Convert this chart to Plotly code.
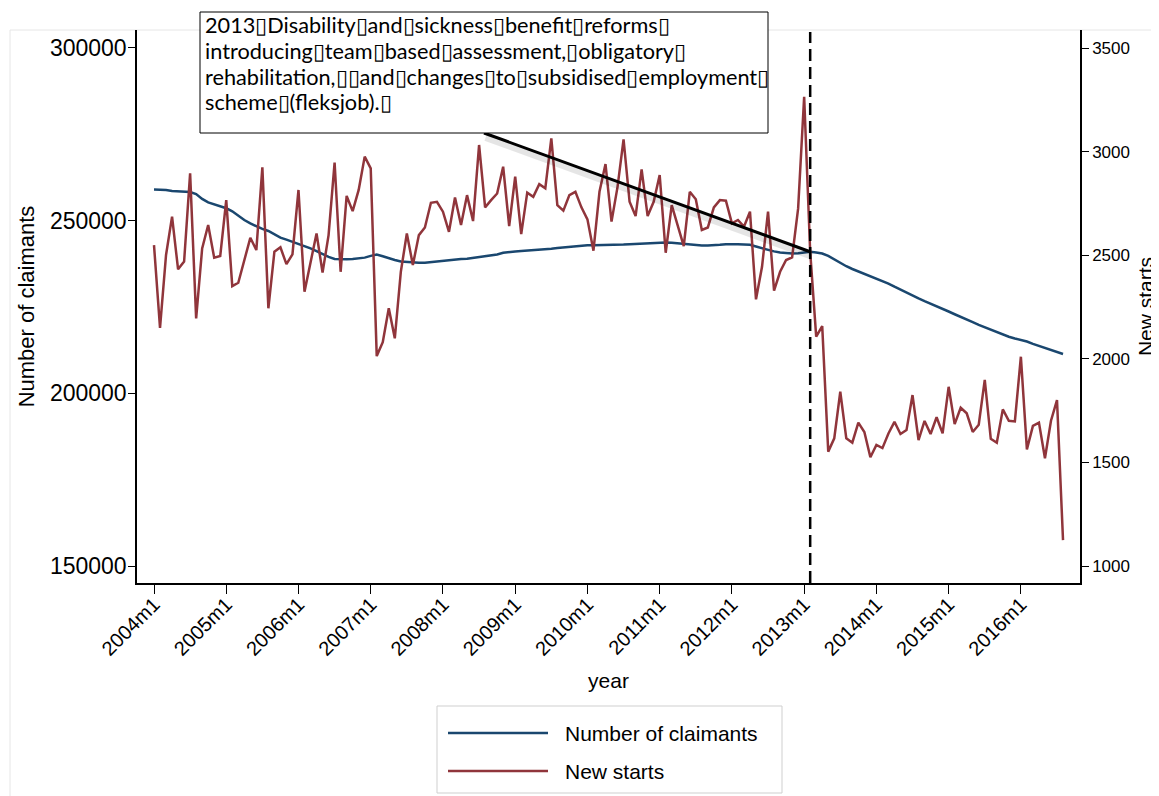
import plotly.graph_objects as go

# ---------------- data ----------------
month_index = list(range(152))  # 2004m1 ... 2016m8
tick_positions = [0, 12, 24, 36, 48, 60, 72, 84, 96, 108, 120, 132, 144]
tick_labels = ["2004m1", "2005m1", "2006m1", "2007m1", "2008m1", "2009m1", "2010m1",
               "2011m1", "2012m1", "2013m1", "2014m1", "2015m1", "2016m1"]

claimants = [
    259000, 259000, 258900, 258600, 258500, 258400, 258300, 257700, 256300, 255300,
    254700, 254200, 253600, 252700, 251400, 250200, 249200, 248300, 247600, 247000,
    246000, 245100, 244500, 243900, 243400, 242700, 242000, 241200, 240300, 239500,
    238900, 238800, 238800, 238900, 239000, 239300, 239800, 240200, 239700, 239100,
    238600, 238200, 238000, 237800, 237800, 237800, 238000, 238300, 238500, 238700,
    238800, 238900, 239000, 239200, 239400, 239800, 240000, 240200, 240700, 241000,
    241100, 241200, 241300, 241400, 241500, 241700, 241900, 242100, 242300, 242500,
    242600, 242800, 242900, 242900, 242900, 243000, 242900, 243000, 243100, 243200,
    243300, 243400, 243500, 243600, 243700, 243700, 243600, 243400, 243200, 243000,
    242900, 242800, 242800, 242800, 243000, 243200, 243300, 243200, 243100, 243000,
    242500, 242000, 241600, 241100, 240800, 240600, 240500, 240600, 240900, 241000,
    240800, 240500, 239800, 238800, 237700, 236800, 236000, 235300, 234700, 234000,
    233400, 232700, 231800, 230900, 230000, 229100, 228200, 227500, 226700, 226000,
    225200, 224500, 223700, 222900, 222200, 221400, 220600, 219800, 219100, 218400,
    217600, 216900, 216400, 215900, 215500, 215000, 214300, 213700, 213100, 212400,
    211800, 211400,
]

new_starts = [
    2549, 2149, 2501, 2686, 2432, 2469, 2895, 2195, 2533, 2646,
    2488, 2496, 2766, 2351, 2367, 2469, 2584, 2525, 2924, 2244,
    2517, 2538, 2457, 2504, 2815, 2324, 2464, 2605, 2416, 2597,
    2947, 2420, 2786, 2713, 2815, 2976, 2919, 2013, 2080, 2244,
    2099, 2420, 2605, 2453, 2597, 2634, 2753, 2758, 2710, 2613,
    2779, 2646, 2790, 2665, 3032, 2731, 2766, 2798, 2927, 2641,
    2879, 2602, 2802, 2782, 2843, 2823, 3064, 2742, 2715, 2790,
    2806, 2731, 2673, 2522, 2806, 2940, 2662, 2830, 3059, 2758,
    2689, 2914, 2689, 2758, 2887, 2512, 2742, 2638, 2544, 2806,
    2770, 2622, 2634, 2731, 2766, 2763, 2654, 2670, 2638, 2710,
    2287, 2444, 2710, 2329, 2420, 2477, 2490, 2726, 3265, 2517,
    2107, 2158, 1552, 1616, 1841, 1616, 1595, 1692, 1647, 1525,
    1584, 1569, 1640, 1696, 1637, 1656, 1825, 1608, 1700, 1637,
    1718, 1640, 1865, 1685, 1764, 1737, 1647, 1682, 1898, 1614,
    1595, 1756, 1701, 1698, 2010, 1563, 1676, 1692, 1520, 1701,
    1801, 1125,
]

reform_month = 109          # 2013m2
reform_claimants = 241000
note_lines = [
    "2013\u25afDisability\u25afand\u25afsickness\u25afbenefit\u25afreforms\u25af",
    "introducing\u25afteam\u25afbased\u25afassessment,\u25afobligatory\u25af",
    "rehabilitation,\u25af\u25afand\u25afchanges\u25afto\u25afsubsidised\u25afemployment\u25af",
    "scheme\u25af(fleksjob).\u25af",
]

# ---------------- figure ----------------
BLUE = "#1a476f"
RED = "#90353b"
FONT = "Liberation Sans, Arial, sans-serif"

# the page body has an 8px margin, so the figure is sized/offset to compensate
OFF = 8
W, H = 1159 - OFF, 796 - OFF
PL, PR, PT, PB = 137, 1080, 30, 583          # plot area in page pixels
L, R, T, B = PL - OFF, 1159 - PR, PT - OFF, H - (PB - OFF)
pw, ph = PR - PL, PB - PT


def px(xp):
    return (xp - PL) / pw


def py(yp):
    return (PB - yp) / ph


fig = go.Figure()
fig.add_trace(go.Scatter(x=month_index, y=claimants, mode="lines", name="Number of claimants",
                         line=dict(color=BLUE, width=2.5), showlegend=False))
fig.add_trace(go.Scatter(x=month_index, y=new_starts, mode="lines", name="New starts",
                         line=dict(color=RED, width=2.5), yaxis="y2", showlegend=False))

shapes = []
# faint outer graph-region border
shapes.append(dict(type="rect", xref="paper", yref="paper", x0=px(10), x1=px(1175),
                   y0=py(815), y1=py(30), line=dict(color="#e6e6e6", width=1),
                   fillcolor="rgba(0,0,0,0)", layer="below"))
# dashed reform line
shapes.append(dict(type="line", xref="x", yref="paper", x0=reform_month, x1=reform_month,
                   y0=0, y1=py(32), line=dict(color="black", width=2.5, dash="12px,6px")))
# arrow (with soft shadow)
ylo, yhi = 145080, 305210
per_px = (yhi - ylo) / ph
x_start = (484 - 154) / 6.02
y_start = ylo + (PB - 133) * per_px
shapes.append(dict(type="line", xref="x", yref="y", x0=x_start + 0.3, y0=y_start - 4 * per_px,
                   x1=reform_month + 0.3, y1=reform_claimants - 4 * per_px,
                   line=dict(color="rgba(0,0,0,0.10)", width=8)))
shapes.append(dict(type="line", xref="x", yref="y", x0=x_start, y0=y_start,
                   x1=reform_month, y1=reform_claimants,
                   line=dict(color="black", width=3)))
# note box
shapes.append(dict(type="rect", xref="paper", yref="paper", x0=px(200), x1=px(768),
                   y0=py(133), y1=py(12), line=dict(color="black", width=1),
                   fillcolor="white"))
# legend box and samples
shapes.append(dict(type="rect", xref="paper", yref="paper", x0=px(437), x1=px(782),
                   y0=py(793), y1=py(706), line=dict(color="#cfcfcf", width=1),
                   fillcolor="white"))
shapes.append(dict(type="line", xref="paper", yref="paper", x0=px(448), x1=px(548),
                   y0=py(733), y1=py(733), line=dict(color=BLUE, width=2.5)))
shapes.append(dict(type="line", xref="paper", yref="paper", x0=px(448), x1=px(548),
                   y0=py(771), y1=py(771), line=dict(color=RED, width=2.5)))

annotations = []
line_centers = [25, 51, 77, 102]
for txt, yc in zip(note_lines, line_centers):
    annotations.append(dict(text=txt, xref="paper", yref="paper", x=px(203), y=py(yc),
                            xanchor="left", yanchor="middle", showarrow=False, align="left",
                            font=dict(family="Lato, Carlito, sans-serif", size=21.7, color="black")))
annotations.append(dict(text="Number of claimants", xref="paper", yref="paper", x=px(563), y=py(733),
                        xanchor="left", yanchor="middle", showarrow=False,
                        font=dict(family=FONT, size=21, color="black")))
annotations.append(dict(text="New starts", xref="paper", yref="paper", x=px(563), y=py(771),
                        xanchor="left", yanchor="middle", showarrow=False,
                        font=dict(family=FONT, size=21, color="black")))

fig.update_layout(
    width=W, height=H,
    margin=dict(l=L, r=R, t=T, b=B, pad=0, autoexpand=False),
    paper_bgcolor="white", plot_bgcolor="white",
    font=dict(family=FONT, color="black"),
    showlegend=False,
    xaxis=dict(range=[(PL - 154) / 6.02, (PR - 154) / 6.02], tickvals=tick_positions,
               ticktext=tick_labels, tickangle=-45, ticks="outside", ticklen=9,
               tickcolor="black", tickwidth=1.2, showline=True, linecolor="black",
               linewidth=1.5, showgrid=False, zeroline=False, ticklabelstandoff=-9,
               tickfont=dict(size=20, family=FONT), automargin=False,
               title=dict(text="year", font=dict(size=21, family=FONT), standoff=15)),
    yaxis=dict(range=[ylo, yhi], tickvals=[150000, 200000, 250000, 300000],
               ticktext=["150000", "200000", "250000", "300000"],
               ticks="outside", ticklen=7, tickcolor="black", tickwidth=1.2,
               showline=True, linecolor="black", linewidth=1.5, showgrid=False,
               zeroline=False, tickfont=dict(size=23, family=FONT), automargin=False,
               ticklabelstandoff=-3,
               title=dict(text="Number of claimants", font=dict(size=22, family=FONT), standoff=9)),
    yaxis2=dict(range=[918, 3587], tickvals=[1000, 1500, 2000, 2500, 3000, 3500],
                ticktext=["1000", "1500", "2000", "2500", "3000", "3500"],
                overlaying="y", side="right", ticks="outside", ticklen=7,
                tickcolor="black", tickwidth=1.2, showline=True, linecolor="black",
                linewidth=1.5, showgrid=False, zeroline=False, automargin=False,
                tickfont=dict(size=17, family=FONT),
                title=dict(text="New starts", font=dict(size=21, family=FONT), standoff=9)),
    shapes=shapes,
    annotations=annotations,
)

fig.write_html("out.html")
